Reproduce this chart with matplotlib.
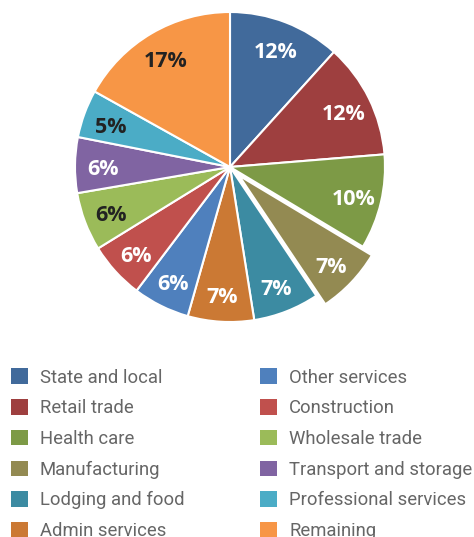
import numpy as np
import matplotlib.pyplot as plt
from matplotlib.patches import Patch

sectors = ["State and local", "Retail trade", "Health care", "Manufacturing",
           "Lodging and food", "Admin services", "Other services", "Construction",
           "Wholesale trade", "Transport and storage", "Professional services", "Remaining"]
shares = [11.7, 12.0, 9.9, 7.0, 6.9, 6.9, 5.9, 5.9, 6.1, 5.8, 5.0, 16.9]
colors = ["#416a9b", "#9e3f3f", "#7d9a46", "#938a52", "#3c8ba2", "#cb7934",
          "#4f80bd", "#c0504d", "#9bbb59", "#8064a2", "#4bacc6", "#f79646"]
dark_text = ["Wholesale trade", "Professional services", "Remaining"]

fig = plt.figure(figsize=(4.74, 5.37), dpi=100)
R = 155
cx, cy = 230, 167
ax = fig.add_axes([(cx - R) / 474, (537 - cy - R) / 537, 2 * R / 474, 2 * R / 537])

pull = 0.08
explode = [pull if s == "Manufacturing" else 0 for s in sectors]
wedges, texts = ax.pie(shares, colors=colors, startangle=90, counterclock=False,
                       explode=explode,
                       wedgeprops=dict(edgecolor="white", linewidth=1.5))
for w, s, v in zip(wedges, sectors, shares):
    w.set_clip_on(False)
    ang = np.deg2rad((w.theta1 + w.theta2) / 2)
    r = 0.82 + (pull if s == "Manufacturing" else 0)
    ax.text(r * np.cos(ang), r * np.sin(ang) - 0.025, f"{round(v)}%",
            ha="center", va="center", fontsize=15.5, fontweight="bold",
            family="Open Sans",
            color="#222222" if s in dark_text else "white")
ax.set_xlim(-1, 1)
ax.set_ylim(-1, 1)
ax.axis("off")

# legend in two columns under the pie
handles = [Patch(facecolor=c, edgecolor="none") for c in colors]
leg = fig.legend(handles, sectors, ncol=2, loc="upper left",
                 bbox_to_anchor=(3.6 / 474, 1 - 361 / 537), frameon=False,
                 prop=dict(family="Roboto", size=13.3),
                 handlelength=0.92, handleheight=0.92, handletextpad=0.65,
                 labelspacing=0.68, columnspacing=4.1, borderaxespad=0)
for t in leg.get_texts():
    t.set_color("#666666")

fig.savefig("out.png", dpi=100)
